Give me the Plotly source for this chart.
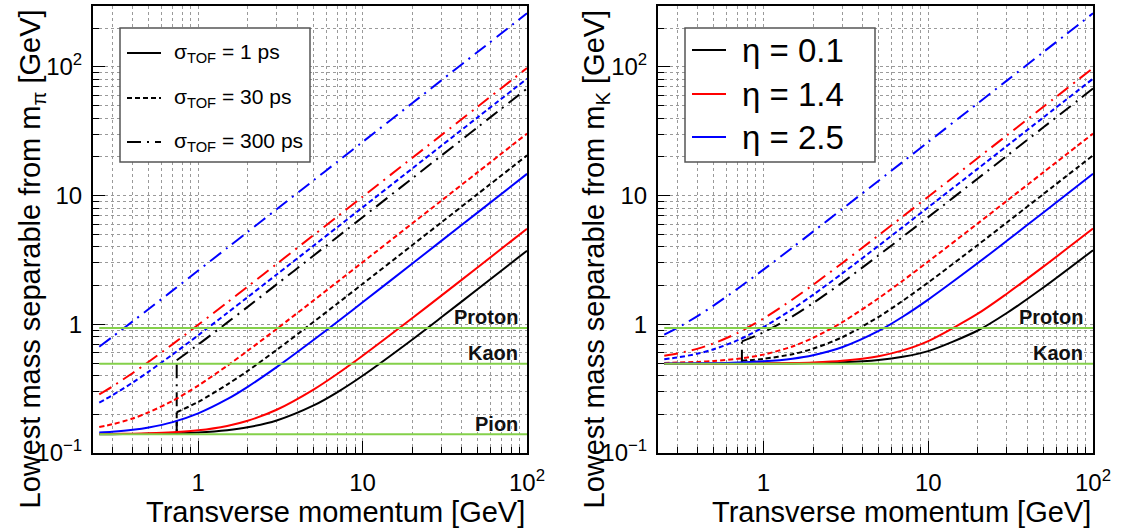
import plotly.graph_objects as go

W, H = 1122, 529
def fx(px): return px / W
def fy(py): return 1 - py / H

# ---------------- data ----------------
pt = [0.25, 0.3, 0.4, 0.5, 0.7, 1, 1.5, 2, 3, 5, 7, 10, 20, 30, 50, 100]
pt_eta01 = [0.74, 1, 1.5, 2, 3, 5, 7, 10, 20, 30, 50, 100]
pt_threshold = 0.74
pt_band = [0.25, 100]

mass_pion = 0.1396
mass_kaon = 0.4937
mass_proton = 0.9383

# left panel: separable from m_pi
pi_eta01_1ps = [0.1399, 0.1401, 0.1404, 0.1409, 0.1420, 0.1445, 0.1504, 0.1583, 0.1790, 0.2332, 0.2964, 0.3987, 0.7598, 1.1289, 1.8722, 3.7367]
pi_eta01_30ps = [0.2074, 0.2493, 0.3405, 0.4346, 0.6326, 1.0373, 1.4457, 2.0603, 4.1133, 6.1679, 10.278, 20.555]
pi_eta01_300ps = [0.5255, 0.6964, 1.0304, 1.3672, 2.0436, 3.3999, 4.7575, 6.7946, 13.587, 20.379, 33.965, 67.93]
pi_eta14_1ps = [0.1403, 0.1406, 0.1413, 0.1423, 0.1449, 0.1501, 0.1624, 0.1781, 0.2167, 0.3096, 0.4113, 0.5700, 1.1141, 1.6639, 2.7668, 5.528]
pi_eta14_30ps = [0.1595, 0.1672, 0.1855, 0.2073, 0.2545, 0.3343, 0.4763, 0.6229, 0.9210, 1.5236, 2.1286, 3.0375, 6.070, 9.104, 15.172, 30.342]
pi_eta14_300ps = [0.2855, 0.3285, 0.4186, 0.5116, 0.7018, 0.9914, 1.4781, 1.9666, 2.9453, 4.9049, 6.8653, 9.8065, 19.611, 29.417, 49.027, 98.05]
pi_eta25_1ps = [0.1444, 0.1465, 0.1516, 0.1579, 0.1737, 0.2032, 0.2618, 0.3267, 0.4646, 0.7515, 1.0432, 1.4835, 2.957, 4.433, 7.386, 14.77]
pi_eta25_30ps = [0.2464, 0.2807, 0.3533, 0.4289, 0.5845, 0.8227, 1.2240, 1.6273, 2.4359, 4.0556, 5.6761, 8.1074, 16.213, 24.319, 40.532, 81.06]
pi_eta25_300ps = [0.6692, 0.7973, 1.0552, 1.3145, 1.8348, 2.6170, 3.9220, 5.2277, 7.8401, 13.065, 18.291, 26.129, 52.257, 78.387, 130.65, 261.29]

# right panel: separable from m_K
K_eta01_1ps = [0.4937, 0.4937, 0.4937, 0.4937, 0.4937, 0.4953, 0.4970, 0.4995, 0.5064, 0.5280, 0.5588, 0.6191, 0.8953, 1.2242, 1.9312, 3.7666]
K_eta01_30ps = [0.5210, 0.5392, 0.5863, 0.6463, 0.7931, 1.1423, 1.5228, 2.1151, 4.1410, 6.1864, 10.289, 20.560]
K_eta01_300ps = [0.7364, 0.8677, 1.1536, 1.4626, 2.1087, 3.4394, 4.7858, 6.8145, 13.597, 20.386, 33.969, 67.93]
K_eta14_1ps = [0.4939, 0.4940, 0.4943, 0.4945, 0.4953, 0.4968, 0.5007, 0.5060, 0.5209, 0.5658, 0.6273, 0.7411, 1.2106, 1.7299, 2.8070, 5.5485]
K_eta14_30ps = [0.5015, 0.5041, 0.5106, 0.5187, 0.5396, 0.5815, 0.6733, 0.7838, 1.0367, 1.5962, 2.1811, 3.0745, 6.0887, 9.1161, 15.179, 30.346]
K_eta14_300ps = [0.5695, 0.5930, 0.6478, 0.7119, 0.8593, 1.1086, 1.5587, 2.0282, 2.9868, 4.9299, 6.8833, 9.8190, 19.618, 29.421, 49.030, 98.06]
K_eta25_1ps = [0.4951, 0.4957, 0.4973, 0.4992, 0.5045, 0.5154, 0.5412, 0.5754, 0.6634, 0.8883, 1.1457, 1.5572, 2.9947, 4.4581, 7.4010, 14.777]
K_eta25_30ps = [0.5356, 0.5522, 0.5924, 0.6404, 0.7535, 0.9502, 1.3130, 1.6954, 2.4819, 4.0833, 5.6961, 8.1213, 16.220, 24.324, 40.534, 81.06]
K_eta25_300ps = [0.8313, 0.9376, 1.1641, 1.4041, 1.9001, 2.6631, 3.9530, 5.2510, 7.8556, 13.075, 18.298, 26.134, 52.259, 78.388, 130.65, 261.29]

x_major = [1, 10, 100]
x_major_text = ["1", "10", "10<sup>2</sup>"]
x_minor = [0.3, 0.4, 0.5, 0.6, 0.7, 0.8, 0.9, 2, 3, 4, 5, 6, 7, 8, 9, 20, 30, 40, 50, 60, 70, 80, 90]
y_major = [0.1, 1, 10, 100]
y_major_text = ["10<sup>\u22121</sup>", "1", "10", "10<sup>2</sup>"]
y_minor = [0.2, 0.3, 0.4, 0.5, 0.6, 0.7, 0.8, 0.9, 2, 3, 4, 5, 6, 7, 8, 9, 20, 30, 40, 50, 60, 70, 80, 90, 200]

sigma_labels = ["\u03c3<sub>TOF</sub> = 1 ps", "\u03c3<sub>TOF</sub> = 30 ps", "\u03c3<sub>TOF</sub> = 300 ps"]
eta_labels = ["\u03b7 = 0.1", "\u03b7 = 1.4", "\u03b7 = 2.5"]

# ---------------- styles ----------------
FONT = "Liberation Sans, Arial, Helvetica, sans-serif"
C_BLACK, C_RED, C_BLUE = "#000000", "#ff0000", "#0000ff"
C_GREEN = "#84d04a"
DASH_1, DASH_30, DASH_300 = "solid", "5px,3px", "14px,6px,2px,6px"
GRID = "#9a9a9a"

fig = go.Figure()

def add_curve(x, y, color, dash, xa, ya):
    fig.add_trace(go.Scatter(x=x, y=y, mode="lines", xaxis=xa, yaxis=ya,
                             line=dict(color=color, width=2, dash=dash, shape="spline", smoothing=0.8),
                             showlegend=False, hoverinfo="skip"))

def add_jump(y_from, y_to, dash, xa, ya):
    fig.add_trace(go.Scatter(x=[pt_threshold, pt_threshold], y=[y_from, y_to], mode="lines",
                             xaxis=xa, yaxis=ya, line=dict(color=C_BLACK, width=2, dash=dash),
                             showlegend=False, hoverinfo="skip"))

def add_band(m, xa, ya):
    fig.add_trace(go.Scatter(x=pt_band, y=[m, m], mode="lines", xaxis=xa, yaxis=ya,
                             line=dict(color=C_GREEN, width=2), showlegend=False, hoverinfo="skip"))

for xa, ya, m0, data in [
    ("x", "y", mass_pion,
     [(pi_eta01_1ps, pi_eta01_30ps, pi_eta01_300ps),
      (pi_eta14_1ps, pi_eta14_30ps, pi_eta14_300ps),
      (pi_eta25_1ps, pi_eta25_30ps, pi_eta25_300ps)]),
    ("x2", "y2", mass_kaon,
     [(K_eta01_1ps, K_eta01_30ps, K_eta01_300ps),
      (K_eta14_1ps, K_eta14_30ps, K_eta14_300ps),
      (K_eta25_1ps, K_eta25_30ps, K_eta25_300ps)]),
]:
    (b1, b30, b300), (r1, r30, r300), (u1, u30, u300) = data
    add_curve(pt, b1, C_BLACK, DASH_1, xa, ya)
    add_jump(m0, b30[0], DASH_30, xa, ya)
    add_curve(pt_eta01, b30, C_BLACK, DASH_30, xa, ya)
    add_jump(m0, b300[0], DASH_300, xa, ya)
    add_curve(pt_eta01, b300, C_BLACK, DASH_300, xa, ya)
    add_curve(pt, r1, C_RED, DASH_1, xa, ya)
    add_curve(pt, r30, C_RED, DASH_30, xa, ya)
    add_curve(pt, r300, C_RED, DASH_300, xa, ya)
    add_curve(pt, u1, C_BLUE, DASH_1, xa, ya)
    add_curve(pt, u30, C_BLUE, DASH_30, xa, ya)
    add_curve(pt, u300, C_BLUE, DASH_300, xa, ya)

add_band(mass_proton, "x", "y")
add_band(mass_kaon, "x", "y")
add_band(mass_pion, "x", "y")
add_band(mass_proton, "x2", "y2")
add_band(mass_kaon, "x2", "y2")

# ---------------- axes ----------------
def xaxis(domain, anchor):
    return dict(type="log", range=[-0.64, 2], domain=domain, anchor=anchor,
                tickvals=x_major, ticktext=x_major_text, ticks="inside", ticklen=12,
                tickwidth=1, tickcolor="black", ticklabelstandoff=7,
                showline=True, linewidth=2, linecolor="black", mirror=True,
                showgrid=True, gridcolor=GRID, griddash="dot", gridwidth=1, zeroline=False,
                minor=dict(tickvals=x_minor, ticks="inside", ticklen=6, tickwidth=1, tickcolor="black",
                           showgrid=True, gridcolor=GRID, griddash="dot", gridwidth=1),
                tickfont=dict(family=FONT, size=24, color="black"), automargin=False)

def yaxis(anchor):
    return dict(type="log", range=[-1, 2.474], domain=[fy(453), fy(6)], anchor=anchor,
                tickvals=y_major, ticktext=y_major_text, ticks="inside", ticklen=12,
                tickwidth=1, tickcolor="black", ticklabelstandoff=4,
                showline=True, linewidth=2, linecolor="black", mirror=True,
                showgrid=True, gridcolor=GRID, griddash="dot", gridwidth=1, zeroline=False,
                minor=dict(tickvals=y_minor, ticks="inside", ticklen=6, tickwidth=1, tickcolor="black",
                           showgrid=True, gridcolor=GRID, griddash="dot", gridwidth=1),
                tickfont=dict(family=FONT, size=24, color="black"), automargin=False)

fig.update_layout(
    width=W, height=H, autosize=False,
    margin=dict(l=0, r=0, t=0, b=0, pad=0),
    paper_bgcolor="white", plot_bgcolor="white",
    showlegend=False,
    xaxis=xaxis([fx(93), fx(527)], "y"),
    yaxis=yaxis("x"),
    xaxis2=xaxis([fx(658), fx(1093)], "y2"),
    yaxis2=yaxis("x2"),
    font=dict(family=FONT, color="black"),
)

shapes = []
annotations = []

for xr in (527, 1093):
    annotations.append(dict(text="Transverse momentum [GeV]", x=fx(xr), y=fy(512), xref="paper", yref="paper",
                            xanchor="right", yanchor="middle", showarrow=False,
                            font=dict(family=FONT, size=29, color="black")))
annotations.append(dict(text="Lowest mass separable from m<sub>\u03c0</sub> [GeV]", x=fx(31), y=fy(8),
                        xref="paper", yref="paper", xanchor="center", yanchor="top", textangle=-90,
                        showarrow=False, font=dict(family=FONT, size=29, color="black")))
annotations.append(dict(text="Lowest mass separable from m<sub>K</sub> [GeV]", x=fx(595), y=fy(8),
                        xref="paper", yref="paper", xanchor="center", yanchor="top", textangle=-90,
                        showarrow=False, font=dict(family=FONT, size=29, color="black")))

for txt, xr, yc in [("Proton", 520, 317), ("Kaon", 520, 353), ("Pion", 520, 424),
                    ("Proton", 1085, 317), ("Kaon", 1085, 353)]:
    annotations.append(dict(text="<b>%s</b>" % txt, x=fx(xr), y=fy(yc), xref="paper", yref="paper",
                            xanchor="right", yanchor="middle", showarrow=False,
                            font=dict(family=FONT, size=20, color="#111111")))

shapes.append(dict(type="rect", xref="paper", yref="paper", x0=fx(120), x1=fx(310), y0=fy(162), y1=fy(28),
                   fillcolor="white", line=dict(color="#555555", width=1.5), layer="above"))
shapes.append(dict(type="rect", xref="paper", yref="paper", x0=fx(685), x1=fx(875), y0=fy(162), y1=fy(28),
                   fillcolor="white", line=dict(color="#555555", width=1.5), layer="above"))

for lab, dash, yc in zip(sigma_labels, [DASH_1, DASH_30, DASH_300], [53, 98, 142]):
    shapes.append(dict(type="line", xref="paper", yref="paper", x0=fx(127), x1=fx(161), y0=fy(yc), y1=fy(yc),
                       line=dict(color="black", width=2, dash=dash), layer="above"))
    annotations.append(dict(text=lab, x=fx(172), y=fy(yc), xref="paper", yref="paper",
                            xanchor="left", yanchor="middle", showarrow=False,
                            font=dict(family=FONT, size=21, color="black")))

for lab, col, yc in zip(eta_labels, [C_BLACK, C_RED, C_BLUE], [50, 94, 137]):
    shapes.append(dict(type="line", xref="paper", yref="paper", x0=fx(692), x1=fx(726), y0=fy(yc), y1=fy(yc),
                       line=dict(color=col, width=2), layer="above"))
    annotations.append(dict(text=lab, x=fx(740), y=fy(yc), xref="paper", yref="paper",
                            xanchor="left", yanchor="middle", showarrow=False,
                            font=dict(family=FONT, size=33, color="black")))

fig.update_layout(shapes=shapes, annotations=annotations)
fig.write_html("out.html", post_script="document.body.style.margin='0';document.body.style.overflow='hidden';")
